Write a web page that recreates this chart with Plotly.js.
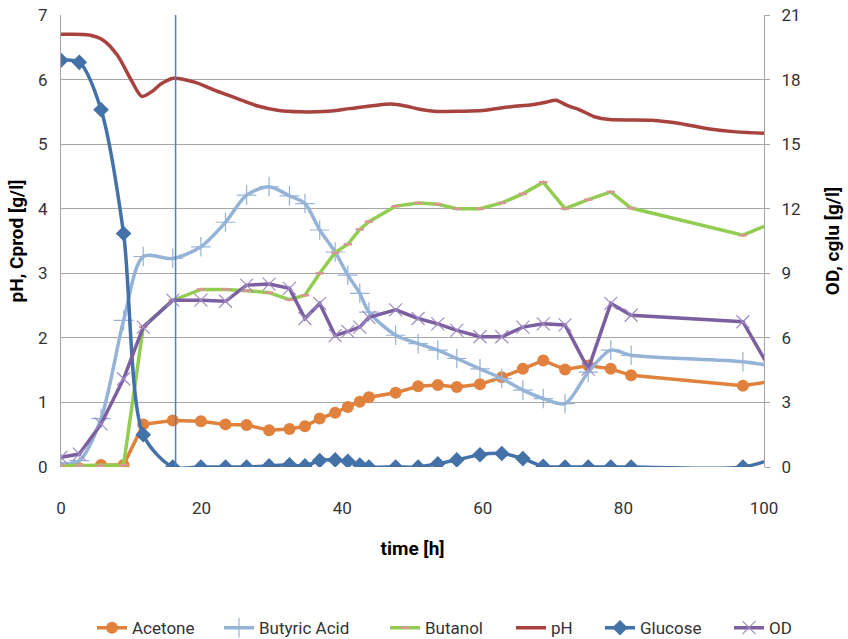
<!DOCTYPE html>
<html>
<head>
<meta charset="utf-8">
<script src="https://cdn.plot.ly/plotly-3.0.1.min.js"></script>
<style>
  html, body { margin: 0; padding: 0; background: #fff; }
  #chart { width: 848px; height: 639px; }
</style>
</head>
<body>
<div id="chart"></div>
<script>
// Sampling times of the fermentation [h]
const time = [0, 2.6, 5.7, 8.9, 11.7, 15.9, 19.9, 23.4, 26.4, 29.6, 32.5, 34.7, 36.8, 39.0, 40.8,
  42.5, 43.8, 47.6, 50.8, 53.6, 56.3, 59.6, 62.7, 65.7, 68.6, 71.7, 75.0, 78.2, 81.1, 97.0, 102];

// Products [g/l] (left axis)
const acetone = [-0.02, -0.02, 0.03, 0.03, 0.66, 0.72, 0.71, 0.66, 0.65, 0.57, 0.59, 0.63, 0.75, 0.84, 0.93,
  1.01, 1.08, 1.15, 1.25, 1.27, 1.24, 1.28, 1.39, 1.52, 1.65, 1.51, 1.57, 1.52, 1.42, 1.26, 1.34];
const butyricAcid = [0.05, 0.1, 0.75, 2.27, 3.26, 3.23, 3.41, 3.79, 4.21, 4.34, 4.20, 4.08, 3.67, 3.33, 2.97,
  2.69, 2.40, 2.04, 1.91, 1.81, 1.68, 1.52, 1.37, 1.19, 1.06, 0.98, 1.47, 1.81, 1.73, 1.63, 1.55];
const butanol = [0.02, 0.02, 0.02, 0.03, 2.17, 2.58, 2.75, 2.75, 2.73, 2.70, 2.59, 2.66, 3.0, 3.32, 3.45,
  3.68, 3.80, 4.04, 4.09, 4.07, 4.0, 4.0, 4.09, 4.23, 4.41, 4.0, 4.14, 4.26, 4.01, 3.59, 3.82];

// Glucose [g/l] and optical density (right axis)
const glucose = [18.9, 18.8, 16.6, 10.85, 1.5, 0, 0, 0, 0, 0.05, 0.1, 0.05, 0.3, 0.33, 0.27,
  0.09, 0, 0, 0, 0.15, 0.33, 0.57, 0.63, 0.39, 0.03, 0, 0, 0, 0, 0, 0.47];
const od = [0.45, 0.6, 2.0, 4.1, 6.5, 7.75, 7.75, 7.7, 8.45, 8.5, 8.3, 6.9, 7.6, 6.1, 6.3,
  6.5, 6.95, 7.3, 6.9, 6.65, 6.35, 6.05, 6.05, 6.5, 6.65, 6.6, 4.55, 7.6, 7.05, 6.75, 3.9];

// Online pH record
const phTime = [0, 4, 6, 8, 10, 11.5, 13, 14.2, 16, 19, 22, 25, 28, 31, 34, 38, 41, 44, 47, 49, 51, 53,
  57, 60, 64, 67, 69, 70.4, 72, 74, 76, 78, 84, 88, 92, 96, 100];
const ph = [6.70, 6.69, 6.61, 6.38, 5.99, 5.74, 5.82, 5.93, 6.02, 5.96, 5.83, 5.71, 5.59, 5.52, 5.50, 5.51,
  5.55, 5.59, 5.62, 5.59, 5.54, 5.51, 5.51, 5.52, 5.58, 5.61, 5.65, 5.68, 5.60, 5.52, 5.42, 5.38, 5.37,
  5.32, 5.24, 5.19, 5.17];

// Time at which the marker line is drawn [h]
const markerTime = 16.3;

const xTicks = [0, 20, 40, 60, 80, 100];
const yTicks = [0, 1, 2, 3, 4, 5, 6, 7];
const y2Ticks = [0, 3, 6, 9, 12, 15, 18, 21];

const FONT = 'Roboto, "Open Sans", sans-serif';

const traces = [
  {
    name: 'Acetone', x: time, y: acetone, type: 'scatter', mode: 'lines+markers', legend: 'legend',
    line: { color: '#E0823D', width: 3.5 },
    marker: { symbol: 'circle', size: 12, color: '#E0823D' }
  },
  {
    name: 'Butyric Acid', x: time, y: butyricAcid, type: 'scatter', mode: 'lines+markers', legend: 'legend2',
    line: { color: '#95B3D7', width: 3.5, shape: 'spline', smoothing: 0.8 },
    marker: { symbol: 'cross-thin', size: 14, color: '#95B3D7', line: { color: '#95B3D7', width: 1.2 } }
  },
  {
    name: 'Butanol', x: time, y: butanol, type: 'scatter', mode: 'lines+markers', legend: 'legend3',
    line: { color: '#92CD52', width: 3.5 },
    marker: { symbol: 'line-ew', size: 6, color: '#D99694', line: { color: '#D99694', width: 2.5 } }
  },
  {
    name: 'pH', x: phTime, y: ph, type: 'scatter', mode: 'lines', legend: 'legend4',
    line: { color: '#A8423F', width: 3.5, shape: 'spline', smoothing: 0.8 }
  },
  {
    name: 'Glucose', x: time, y: glucose, yaxis: 'y2', type: 'scatter', mode: 'lines+markers', legend: 'legend5',
    line: { color: '#4371A8', width: 3.5, shape: 'spline', smoothing: 0.8 },
    marker: { symbol: 'diamond', size: 12, color: '#4371A8' }
  },
  {
    name: 'OD', x: time, y: od, yaxis: 'y2', type: 'scatter', mode: 'lines+markers', legend: 'legend6',
    line: { color: '#7B5FA0', width: 3.5 },
    marker: { symbol: 'x-thin', size: 13, color: '#9F8BC4', line: { color: '#9F8BC4', width: 1.2 } }
  }
];

// One legend box per series so the entries sit at their own horizontal positions
const legendLeft = [92, 219, 385, 511, 600, 729];
function legendAt(px) {
  return {
    orientation: 'h', xref: 'container', yref: 'container',
    x: px / 848, xanchor: 'left', y: 0.017, yanchor: 'middle',
    font: { family: FONT, size: 17, color: '#333333' },
    bgcolor: 'rgba(0,0,0,0)', borderwidth: 0
  };
}

const layout = {
  width: 848, height: 639,
  margin: { l: 61, r: 84, t: 15, b: 172 },
  paper_bgcolor: '#ffffff', plot_bgcolor: '#ffffff',
  font: { family: FONT, size: 17, color: '#333333' },
  showlegend: true,
  legend: legendAt(legendLeft[0]),
  legend2: legendAt(legendLeft[1]),
  legend3: legendAt(legendLeft[2]),
  legend4: legendAt(legendLeft[3]),
  legend5: legendAt(legendLeft[4]),
  legend6: legendAt(legendLeft[5]),
  xaxis: {
    range: [0, 100], tickvals: xTicks, ticks: '', showgrid: false, zeroline: false,
    showline: false, ticklabelstandoff: 29,
    title: { text: '<b>time [h]</b>', standoff: 24, font: { family: FONT, size: 19, color: '#000' } }
  },
  yaxis: {
    range: [0, 7], tickvals: yTicks, ticks: '', showgrid: true, gridcolor: '#A6A6A6', gridwidth: 1,
    zeroline: false, showline: true, linecolor: '#A6A6A6', linewidth: 1, ticklabelstandoff: 9,
    title: { text: '<b>pH, Cprod [g/l]</b>', standoff: 9, font: { family: FONT, size: 19, color: '#000' } }
  },
  yaxis2: {
    range: [0, 21], tickvals: y2Ticks, overlaying: 'y', side: 'right', showgrid: false, zeroline: false,
    showline: true, linecolor: '#A6A6A6', linewidth: 1, ticks: 'outside', ticklen: 5, tickcolor: '#A6A6A6',
    ticklabelstandoff: 8,
    title: { text: '<b>OD, cglu [g/l]</b>', standoff: 26, font: { family: FONT, size: 19, color: '#000' } }
  },
  shapes: [
    {
      type: 'line', xref: 'x', yref: 'paper', x0: markerTime, x1: markerTime, y0: 0, y1: 1,
      line: { color: '#4F81BD', width: 1.5 }, layer: 'above'
    }
  ]
};

Plotly.newPlot('chart', traces, layout, { staticPlot: true, displayModeBar: false });
</script>
</body>
</html>
